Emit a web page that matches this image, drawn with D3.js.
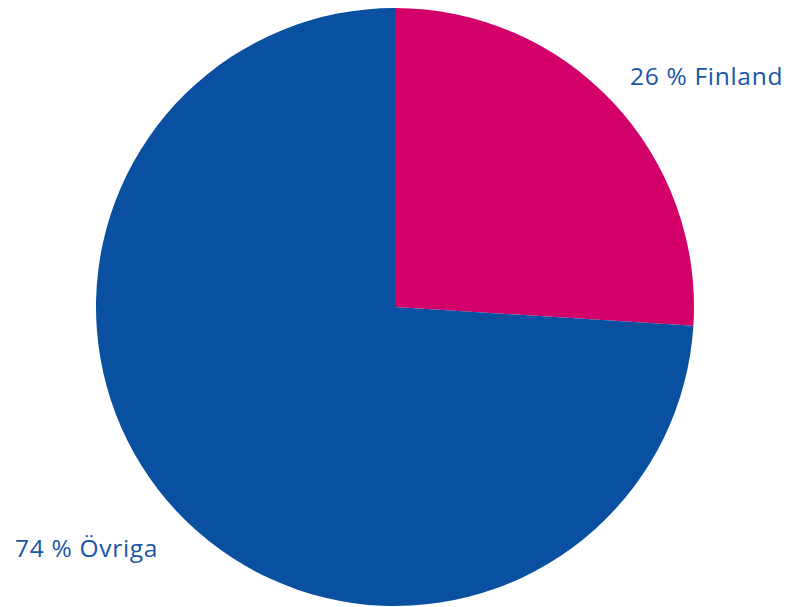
<!DOCTYPE html>
<html>
<head>
    <meta charset="utf-8" />
    <title></title>
    <script src="https://cdn.jsdelivr.net/npm/d3@7"></script>
    <style type="text/css">
        body { margin: 0; background: #fff; }
    </style>
</head>
<body>
    <div id="chart"></div>
<script type="text/javascript">
    var categories = ["Finland", "Övriga"];
    var values = [26, 74];
    var colors = ["#D20068", "#0A50A1"];

    var width = 787;
    var height = 607;
    var cx = 395, cy = 307, radius = 299;

    var svg = d3.select("#chart")
        .append("svg")
        .attr("width", width)
        .attr("height", height);

    var pie = d3.pie().sort(null).value(function (d) { return d; });
    var arc = d3.arc().innerRadius(0).outerRadius(radius);

    var g = svg.append("g").attr("transform", "translate(" + cx + "," + cy + ")");

    g.selectAll("path")
        .data(pie(values))
        .enter()
        .append("path")
        .attr("d", arc)
        .attr("fill", function (d, i) { return colors[i]; });

    // etiketter utanför cirkeln
    var labelPos = [[630, 85], [15, 557]];
    svg.selectAll("text.lbl")
        .data(categories)
        .enter()
        .append("text")
        .attr("class", "lbl")
        .attr("x", function (d, i) { return labelPos[i][0]; })
        .attr("y", function (d, i) { return labelPos[i][1]; })
        .attr("fill", "#1A56A6")
        .attr("font-family", "'Open Sans', 'Noto Sans', sans-serif")
        .attr("font-size", "24.5px")
        .attr("letter-spacing", "0.7px")
        .text(function (d, i) { return values[i] + " % " + d; });
</script>
</body>
</html>
